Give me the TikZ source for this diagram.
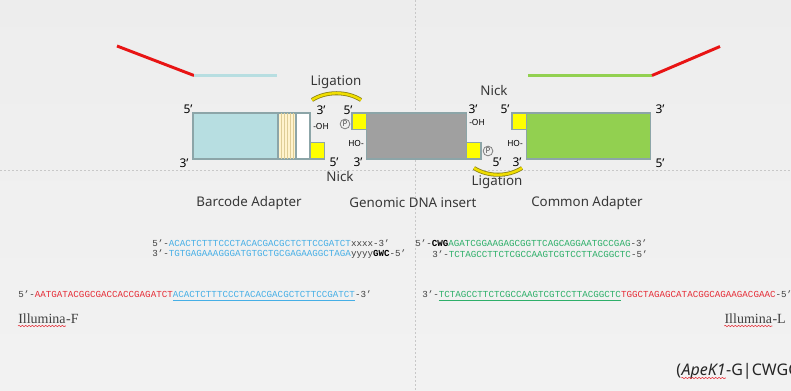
\documentclass[tikz,border=0pt]{standalone}
\usepackage{fontspec}
\setmainfont{Noto Sans}
\newfontfamily\seqfont{Liberation Mono}[Ligatures=TeX]
\newfontfamily\labfont{Liberation Serif}
\usetikzlibrary{positioning,calc,decorations.pathmorphing}

\definecolor{barblue}{RGB}{183,222,225}
\definecolor{boxedge}{RGB}{140,165,168}
\definecolor{insertgray}{RGB}{160,160,160}
\definecolor{comgreen}{RGB}{146,208,80}
\definecolor{nickyellow}{RGB}{255,255,0}
\definecolor{stripefill}{RGB}{255,243,205}
\definecolor{stripeline}{RGB}{222,205,150}
\definecolor{tailred}{RGB}{232,20,20}
\definecolor{seqblue}{RGB}{70,175,230}
\definecolor{seqred}{RGB}{230,45,55}
\definecolor{seqgreen}{RGB}{45,175,105}
\definecolor{ligyellow}{RGB}{240,222,0}
\definecolor{ligedge}{RGB}{140,130,20}
\definecolor{guide}{RGB}{200,200,200}
\definecolor{labeltext}{RGB}{55,55,55}

\begin{document}
\begin{tikzpicture}[x=0.75pt,y=0.75pt,yscale=-1,xscale=1,
  strand/.style={draw=boxedge, line width=0.9pt, inner sep=0pt, outer sep=0pt, anchor=north west, minimum height=34.5pt},
  nickbox/.style={strand, fill=nickyellow, minimum width=10.9pt, minimum height=12.5pt},
  prime/.style={font=\bfseries\fontsize{9}{9}\selectfont, inner sep=0.75pt},
  endgroup/.style={font=\bfseries\fontsize{6.3}{7}\selectfont, inner sep=0.75pt},
  note/.style={font=\fontsize{10}{12}\selectfont, text=labeltext, inner sep=0.75pt},
  phos/.style={circle, draw=gray, line width=0.6pt, inner sep=0.6pt, font=\bfseries\fontsize{6}{6}\selectfont, text=black!70},
  seq/.style={font=\seqfont\fontsize{6.9}{8}\selectfont, text=black!75, anchor=west, inner sep=0pt},
  tail/.style={line width=2.2pt},
  lig/.style={draw=ligedge, double=ligyellow, double distance=1.8pt, line width=0.6pt},
  spell/.style={draw=seqred, line width=0.4pt, decorate, decoration={snake, amplitude=0.5pt, segment length=2.5pt}}]
  % page
  \shade[top color=gray!14, middle color=white, bottom color=gray!10] (0,0) rectangle (791,391);
  \useasboundingbox (0,0) rectangle (791,391);
  \draw[guide, line width=0.5pt, dash pattern=on 1.5pt off 1.5pt] (0,170) -- (791,170);
  \draw[guide, line width=0.5pt, dash pattern=on 1.5pt off 1.5pt] (415,0) -- (415,391);

  % barcode adapter
  \node[strand, fill=barblue, minimum width=63.75pt] (bar) at (193,113) {};
  \node[strand, fill=stripefill, minimum width=13.5pt, right=0pt of bar] (stripes) {};
  \foreach \sx in {3,6,...,15}
    \draw[stripeline, line width=0.4pt] ([xshift=\sx*0.75pt]stripes.north west) -- ([xshift=\sx*0.75pt]stripes.south west);
  \node[strand, fill=white, minimum width=10.5pt, right=0pt of stripes] (gap) {};
  \node[nickbox, anchor=south west] (nickA) at (gap.south east) {};

  % genomic insert
  \node[strand, fill=insertgray, minimum width=75pt] (ins) at (366.5,113) {};
  \node[nickbox, anchor=north east] (padA) at (ins.north west) {};
  \node[nickbox, anchor=south west] (nickB) at (ins.south east) {};

  % common adapter
  \node[strand, fill=comgreen, minimum width=93pt] (com) at (526.5,113) {};
  \node[nickbox, anchor=north east] (padB) at (com.north west) {};

  % single strand tails
  \coordinate (barTail) at (117,46);
  \coordinate (barKnee) at (194,75.5);
  \coordinate (barEnd) at (277,75.5);
  \draw[tail, tailred] (barTail) -- (barKnee);
  \draw[tail, barblue] (barKnee) -- (barEnd);
  \coordinate (comStart) at (528,75.5);
  \coordinate (comKnee) at (652,75.5);
  \coordinate (comTail) at (720,46.5);
  \draw[tail, comgreen] (comStart) -- (comKnee);
  \draw[tail, tailred] (comKnee) -- (comTail);

  % ends, left junction
  \node[prime] (bar5) at (188,109) {5'};
  \node[prime] (bar3) at (184,163) {3'};
  \node[prime] (barTop3) at (321,110) {3'};
  \node[endgroup] (barOH) at (321,126) {-OH};
  \node[prime] (insTop5) at (348,110) {5'};
  \node[phos] (phosA) at (345,124) {P};
  \node[endgroup] (insHO) at (356,143) {HO-};
  \node[prime] (barBot5) at (334,162) {5'};
  \node[prime] (insBot3) at (358,162) {3'};
  \node[note] (nickLeft) at (340,177) {Nick};
  \node[note] (ligLeft) at (336,82) {Ligation};
  \draw[lig] (312,100) .. controls (326,91) and (347,91) .. (361,100);

  % ends, right junction
  \node[prime] (insTop3) at (473,109) {3'};
  \node[endgroup] (insOH) at (477,123) {-OH};
  \node[prime] (comTop5) at (505,109) {5'};
  \node[endgroup] (comHO) at (515,143) {HO-};
  \node[phos] (phosB) at (488,151) {P};
  \node[prime] (insBot5) at (497,162) {5'};
  \node[prime] (comBot3) at (517,162) {3'};
  \node[note] (nickRight) at (494,91) {Nick};
  \node[note] (ligRight) at (497,182) {Ligation};
  \draw[lig] (474,168) .. controls (488,177) and (508,177) .. (522,168);
  \node[prime] (com3) at (660,109) {3'};
  \node[prime] (com5) at (660,163) {5'};

  \node[note] (barName) at (249,203) {Barcode Adapter};
  \node[note] (insName) at (413,203) {Genomic DNA insert};
  \node[note] (comName) at (587,203) {Common Adapter};

  % oligo sequences
  \node[seq] (barTop) at (152,243) {5'-\textcolor{seqblue}{ACACTCTTTCCCTACACGACGCTCTTCCGATCT}xxxx-3'};
  \node[seq] (barBot) at (152,254) {3'-\textcolor{seqblue}{TGTGAGAAAGGGATGTGCTGCGAGAAGGCTAGA}yyyy\textcolor{black}{\textbf{GWC}}-5'};
  \node[seq] (comTop) at (415,243) {5'-\textcolor{black}{\textbf{CWG}}\textcolor{seqgreen}{AGATCGGAAGAGCGGTTCAGCAGGAATGCCGAG}-3'};
  \node[seq] (comBot) at (432,254) {3'-\textcolor{seqgreen}{TCTAGCCTTCTCGCCAAGTCGTCCTTACGGCTC}-5'};

  \node[seq] (illF) at (18,296) {5'-\textcolor{seqred}{AATGATACGGCGACCACCGAGATCT}{\color{seqblue}\underline{ACACTCTTTCCCTACACGACGCTCTTCCGATCT}}-3'};
  \node[seq] (illL) at (422,296) {3'-{\color{seqgreen}\underline{TCTAGCCTTCTCGCCAAGTCGTCCTTACGGCTC}}\textcolor{seqred}{TGGCTAGAGCATACGGCAGAAGACGAAC}-5'};

  % primer names
  \node[font=\labfont\fontsize{10.5}{12}\selectfont, text=black!75, inner sep=0pt, anchor=base west] (illFword) at (18,323) {Illumina};
  \node[font=\labfont\fontsize{10.5}{12}\selectfont, text=black!75, inner sep=0pt, anchor=base west] (illFtag) at (illFword.base east) {-F};
  \node[font=\labfont\fontsize{10.5}{12}\selectfont, text=black!75, inner sep=0pt, anchor=base east] (illLtag) at (786,323) {-L};
  \node[font=\labfont\fontsize{10.5}{12}\selectfont, text=black!75, inner sep=0pt, anchor=base east] (illLword) at (illLtag.base west) {Illumina};
  \draw[spell] ($(illFword.base west)+(0,3)$) -- ($(illFword.base east)+(0,3)$);
  \draw[spell] ($(illLword.base west)+(0,3)$) -- ($(illLword.base east)+(0,3)$);

  % enzyme site
  \node[font=\bfseries\fontsize{12}{14}\selectfont, text=black!85, inner sep=0pt, anchor=base west] (enzOpen) at (676,375) {(};
  \node[font=\bfseries\itshape\fontsize{12}{14}\selectfont, text=black!85, inner sep=0pt, anchor=base west] (enzName) at (enzOpen.base east) {ApeK1};
  \node[font=\bfseries\fontsize{12}{14}\selectfont, text=black!85, inner sep=0pt, anchor=base west] (enzSite) at (enzName.base east) {-G|CWGC};
  \draw[spell] ($(enzName.base west)+(0,3)$) -- ($(enzName.base east)+(0,3)$);
\end{tikzpicture}
\end{document}
